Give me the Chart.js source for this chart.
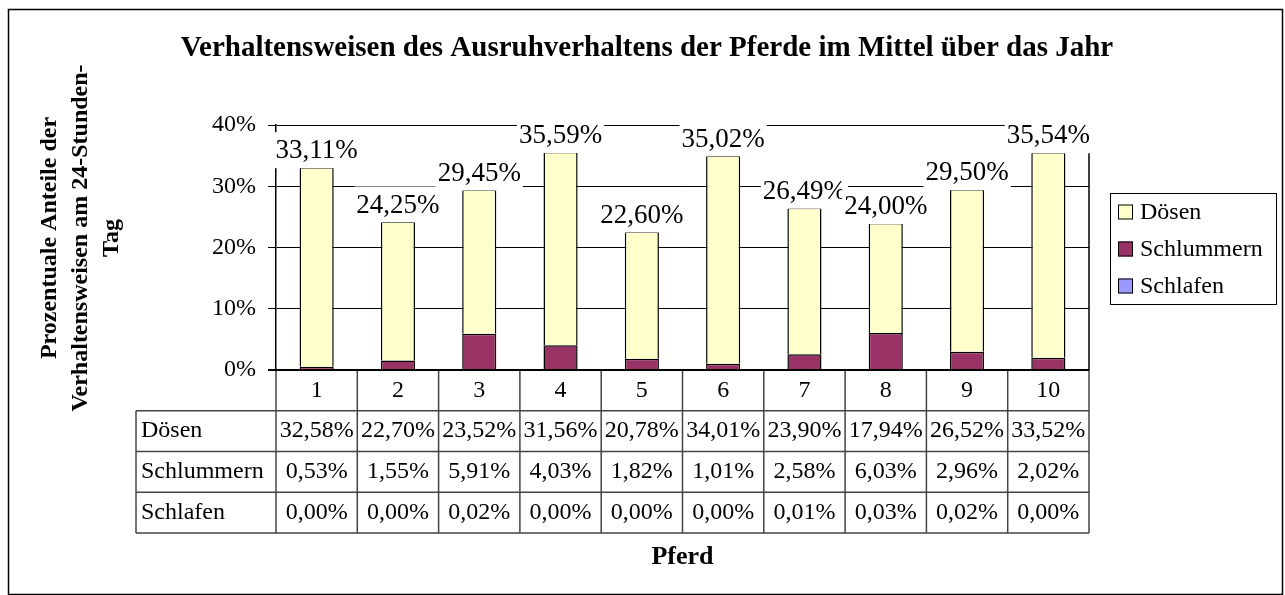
<!DOCTYPE html>
<html lang="de">
<head>
<meta charset="utf-8">
<title>Ausruhverhalten der Pferde</title>
<script src="https://cdn.jsdelivr.net/npm/chart.js@4.4.1/dist/chart.umd.min.js"></script>
<style>
    html, body { margin: 0; padding: 0; background: #fff; }
    #wrap { width: 1285px; height: 595px; }
</style>
</head>
<body>
<div id="wrap"><canvas id="pferdeChart" width="1285" height="595"></canvas></div>
<script>
// Werte aus der Datentabelle (Prozent vom 24-Stunden-Tag)
const pferde = ['1', '2', '3', '4', '5', '6', '7', '8', '9', '10'];
const doesen = [32.58, 22.70, 23.52, 31.56, 20.78, 34.01, 23.90, 17.94, 26.52, 33.52];
const schlummern = [0.53, 1.55, 5.91, 4.03, 1.82, 1.01, 2.58, 6.03, 2.96, 2.02];
const schlafen = [0.00, 0.00, 0.02, 0.00, 0.00, 0.00, 0.01, 0.03, 0.02, 0.00];
const yMax = 40;
const yStep = 10;

const FONT = "'Liberation Serif', 'Times New Roman', serif";
const fmt = (v) => v.toFixed(2).replace('.', ',') + '%';

/**
 * Rahmen rechts am Diagrammbereich (wird von den Summen-Labels überdeckt)
 */
const plotFrame = {
    id: 'plotFrame',
    beforeDatasetsDraw(chart) {
        const { ctx, chartArea } = chart;
        ctx.save();
        ctx.strokeStyle = '#000';
        ctx.lineWidth = 1.5;
        ctx.beginPath();
        ctx.moveTo(chartArea.right, chartArea.top);
        ctx.lineTo(chartArea.right, chartArea.bottom);
        ctx.stroke();
        ctx.restore();
    }
};

/**
 * Summen über den Säulen, mit weißem Hintergrund
 */
const totals = {
    id: 'totals',
    afterDatasetsDraw(chart) {
        const { ctx } = chart;
        const y = chart.scales.y;
        const sets = chart.data.datasets;
        const topMeta = chart.getDatasetMeta(sets.length - 1);
        ctx.save();
        ctx.font = `27px ${FONT}`;
        ctx.textAlign = 'center';
        ctx.textBaseline = 'middle';
        chart.data.labels.forEach((_, i) => {
            const total = sets.reduce((s, d) => s + d.data[i], 0);
            const txt = fmt(total);
            const x = topMeta.data[i].x;
            const cy = y.getPixelForValue(total) - 16;
            const w = ctx.measureText(txt).width;
            ctx.fillStyle = '#fff';
            ctx.fillRect(x - w / 2 - 2, cy - 19, w + 4, 36);
            ctx.fillStyle = '#000';
            ctx.fillText(txt, x, cy);
        });
        ctx.restore();
    }
};

/**
 * Datentabelle unter der x-Achse, Legende, Titel und Rahmen
 */
const extras = {
    id: 'extras',
    afterDraw(chart) {
        const { ctx, chartArea } = chart;
        const sets = chart.data.datasets.slice().reverse();
        const n = chart.data.labels.length;
        const colW = (chartArea.right - chartArea.left) / n;
        const rowH = 40.75;
        const tableLeft = 136;
        const top = chartArea.bottom;
        const bottom = top + rowH * (sets.length + 1);

        ctx.save();
        // Tabellenlinien
        ctx.strokeStyle = '#444';
        ctx.lineWidth = 1.5;
        ctx.beginPath();
        for (let k = 0; k <= n; k++) {
            const x = chartArea.left + k * colW;
            ctx.moveTo(x, top);
            ctx.lineTo(x, bottom);
        }
        ctx.moveTo(tableLeft, top + rowH);
        ctx.lineTo(tableLeft, bottom);
        for (let r = 1; r <= sets.length + 1; r++) {
            const yy = top + r * rowH;
            ctx.moveTo(tableLeft, yy);
            ctx.lineTo(chartArea.right, yy);
        }
        ctx.stroke();

        // x-Achse
        ctx.strokeStyle = '#000';
        ctx.lineWidth = 2;
        ctx.beginPath();
        ctx.moveTo(chartArea.left - 8, top);
        ctx.lineTo(chartArea.right, top);
        ctx.stroke();

        // Tabellentexte
        ctx.fillStyle = '#000';
        ctx.font = `24px ${FONT}`;
        ctx.textBaseline = 'middle';
        ctx.textAlign = 'center';
        chart.data.labels.forEach((lab, i) => {
            const cx = chartArea.left + (i + 0.5) * colW;
            ctx.fillText(lab, cx, top + rowH / 2);
            sets.forEach((d, r) => {
                ctx.fillText(fmt(d.data[i]), cx, top + (r + 1.5) * rowH);
            });
        });
        ctx.textAlign = 'left';
        sets.forEach((d, r) => {
            ctx.fillText(d.label, tableLeft + 5, top + (r + 1.5) * rowH);
        });

        // Legende
        const lx = 1110, ly = 193, lw = 166, lh = 111;
        ctx.strokeStyle = '#000';
        ctx.lineWidth = 1;
        ctx.strokeRect(lx + 0.5, ly + 0.5, lw, lh);
        sets.forEach((d, r) => {
            const cy = ly + 19 + r * 37;
            ctx.fillStyle = d.backgroundColor;
            ctx.fillRect(lx + 8, cy - 7.5, 15, 15);
            ctx.strokeRect(lx + 8.5, cy - 7, 14, 14);
            ctx.fillStyle = '#000';
            ctx.fillText(d.label, lx + 30, cy + 1);
        });

        // Titel
        ctx.textAlign = 'center';
        ctx.font = `bold 29px ${FONT}`;
        ctx.fillText('Verhaltensweisen des Ausruhverhaltens der Pferde im Mittel über das Jahr', 647, 49);

        // Achsentitel
        ctx.font = `bold 26px ${FONT}`;
        ctx.fillText('Pferd', (chartArea.left + chartArea.right) / 2, 557);
        const yLines = ['Prozentuale Anteile der', 'Verhaltensweisen am 24-Stunden-', 'Tag'];
        ctx.font = `bold 24px ${FONT}`;
        ctx.save();
        ctx.translate(0, 238);
        ctx.rotate(-Math.PI / 2);
        yLines.forEach((t, j) => ctx.fillText(t, 0, 50 + j * 31));
        ctx.restore();

        // äußerer Rahmen
        ctx.strokeStyle = '#000';
        ctx.lineWidth = 1.5;
        ctx.strokeRect(8.5, 9.5, 1274, 585);
        ctx.restore();
    }
};

new Chart(document.getElementById('pferdeChart'), {
    type: 'bar',
    data: {
        labels: pferde,
        datasets: [
            { label: 'Schlafen', data: schlafen, backgroundColor: '#9999FF' },
            { label: 'Schlummern', data: schlummern, backgroundColor: '#993366' },
            { label: 'Dösen', data: doesen, backgroundColor: '#FFFFCC' }
        ].map((d) => ({
            ...d,
            borderColor: '#000',
            borderWidth: 1.5,
            categoryPercentage: 1,
            barPercentage: 0.42
        }))
    },
    options: {
        responsive: false,
        animation: false,
        layout: {
            padding: { left: 0, top: 125, right: 196, bottom: 225 }
        },
        plugins: {
            legend: { display: false },
            tooltip: { enabled: false },
            title: { display: false }
        },
        scales: {
            x: {
                stacked: true,
                display: false
            },
            y: {
                stacked: true,
                min: 0,
                max: yMax,
                afterFit: (scale) => { scale.width = 276; },
                ticks: {
                    stepSize: yStep,
                    padding: 12,
                    color: '#000',
                    font: { family: FONT, size: 24 },
                    callback: (v) => v + '%'
                },
                grid: { color: '#000', lineWidth: 1, tickLength: 8 },
                border: { display: true, color: '#000', width: 1.5 }
            }
        }
    },
    plugins: [plotFrame, totals, extras]
});
</script>
</body>
</html>
